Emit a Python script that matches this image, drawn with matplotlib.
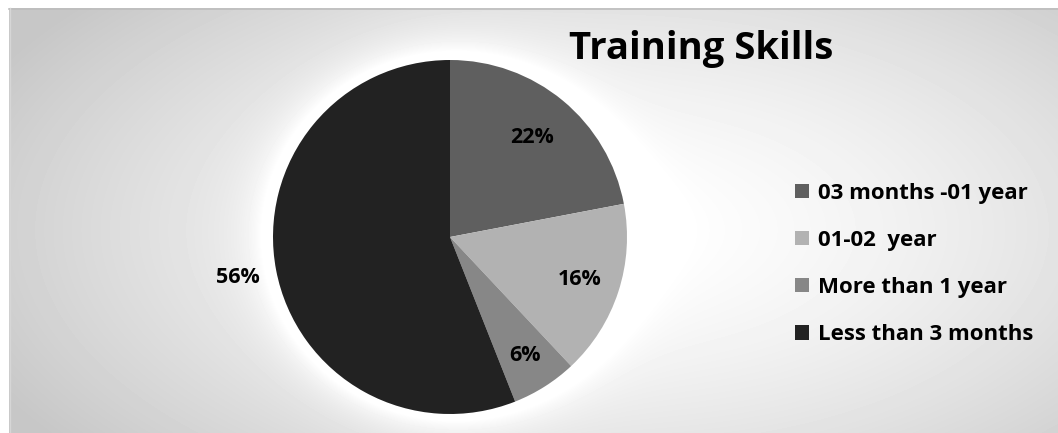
import matplotlib.pyplot as plt
import numpy as np
from matplotlib.patches import Patch

plt.rcParams['font.family'] = ['Open Sans', 'DejaVu Sans']

# data
labels = ["03 months -01 year", "01-02  year", "More than 1 year", "Less than 3 months"]
values = [22, 16, 6, 56]
colors = ["#5f5f5f", "#b2b2b2", "#878787", "#222222"]
title = "Training Skills"

W, H = 1058, 433
fig = plt.figure(figsize=(W / 100, H / 100), dpi=100)
fig.patch.set_facecolor("white")

# background with radial gradient + glow round the pie
bg = fig.add_axes([0, 0, 1, 1])
bg.set_xlim(0, W)
bg.set_ylim(H, 0)
bg.axis("off")
xx, yy = np.meshgrid(np.arange(9, W) + 0.5, np.arange(8, H) + 0.5)
d = np.sqrt(((xx - 620) / 700) ** 2 + ((yy - 230) / 350) ** 2)
val = 1 - 0.22 * np.clip(d, 0, 1) ** 1.5
r = np.sqrt((xx - 450) ** 2 + (yy - 237) ** 2)
val = np.clip(val + 0.14 * np.exp(-np.maximum(r - 177, 0) / 20), 0, 1)
bg.imshow(val, cmap="gray", vmin=0, vmax=1, extent=(9, W, H, 8),
          interpolation="bilinear", aspect="auto")
bg.plot([9, W], [8.5, 8.5], color="#bdbdbd", lw=1.2)
bg.plot([9.5, 9.5], [8, H], color="#d6d6d6", lw=1)

# pie
cx, cy, R = 450, 196, 177
ax = fig.add_axes([(cx - R) / W, (cy - R) / H, 2 * R / W, 2 * R / H])
wedges, _ = ax.pie(values, colors=colors, startangle=90, counterclock=False,
                   radius=1, wedgeprops=dict(linewidth=0))
ax.set_xlim(-1, 1)
ax.set_ylim(-1, 1)
ax.set_aspect("auto")
ax.axis("off")

dists = [0.73, 0.77, 0.79, 1.22]
for w, v, dd in zip(wedges, values, dists):
    ang = np.deg2rad((w.theta1 + w.theta2) / 2)
    ax.text(dd * np.cos(ang), dd * np.sin(ang), f"{v}%", ha="center", va="center",
            fontsize=15.5, fontweight="bold", color="black", clip_on=False)

fig.text(701 / W, 1 - 49 / H, title, ha="center", va="center",
         fontsize=27.5, fontweight="bold", color="black")

handles = [Patch(facecolor=c, edgecolor="none") for c in colors]
fig.legend(handles, labels, loc="center left", bbox_to_anchor=(795 / W, 1 - 264 / H),
           frameon=False, handlelength=0.62, handleheight=0.62, borderpad=0,
           borderaxespad=0, handletextpad=0.4, labelspacing=1.18,
           prop=dict(weight="bold", size=16))

fig.savefig("out.png", dpi=100)
